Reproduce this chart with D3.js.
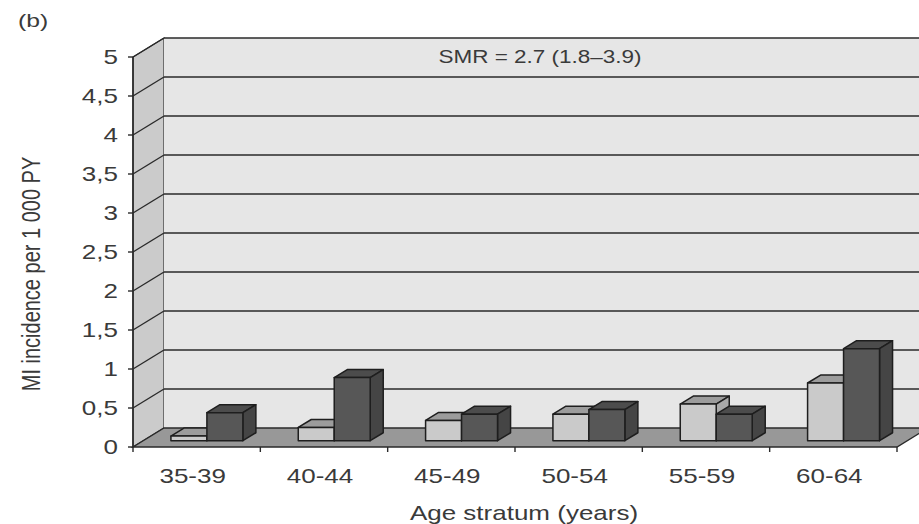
<!DOCTYPE html>
<html>
<head>
<meta charset="utf-8">
<script src="https://cdn.jsdelivr.net/npm/d3@7"></script>
<style>
  body { margin: 0; background: #fff; }
  text { font-family: "Liberation Sans", Arial, sans-serif; fill: #3a3a3a; }
</style>
</head>
<body>
<div id="chart"></div>
<script>
const categories = ['35-39', '40-44', '45-49', '50-54', '55-59', '60-64'];
const series = ['expected', 'observed'];
const expectedValues = [0.06, 0.17, 0.26, 0.34, 0.47, 0.74];
const observedValues = [0.36, 0.81, 0.34, 0.40, 0.34, 1.18];
const yTicks = [0, 0.5, 1, 1.5, 2, 2.5, 3, 3.5, 4, 4.5, 5];
const yTickLabels = ['0', '0,5', '1', '1,5', '2', '2,5', '3', '3,5', '4', '4,5', '5'];

const width = 919;
const height = 524;
// depth of the 3d box, in pixels
const depthX = 31;
const depthY = -19;
// where the bars sit in the depth (fraction of the box depth)
const barZ0 = 0.33;
const barZ1 = 0.75;
const stretch = 1.3; // text in the picture is horizontally stretched

const svg = d3.select('#chart')
  .append('svg')
  .attr('width', width)
  .attr('height', height);

const x = d3.scaleBand().domain(categories).range([133, 897]);
const xs = d3.scaleBand().domain(series).range([0, x.bandwidth()])
  .paddingInner(0).paddingOuter(0.77);
const y = d3.scaleLinear().domain([0, 5]).range([447, 57]);

const colors = {
  expected: {front: '#cacaca', top: '#9c9c9c', side: '#a9a9a9'},
  observed: {front: '#575757', top: '#4c4c4c', side: '#454545'}
};

// project a point (screen x, value, depth fraction) to screen coordinates
const pt = (px, v, z) => [px + z * depthX, y(v) + z * depthY];
const poly = pts => 'M' + pts.map(p => p.join(',')).join('L') + 'Z';

const x0 = x.range()[0], x1 = x.range()[1];
const vMax = y.domain()[1];

// left wall
svg.append('path')
  .attr('d', poly([pt(x0, 0, 0), pt(x0, 0, 1), pt(x0, vMax, 1), pt(x0, vMax, 0)]))
  .attr('fill', '#cbcbcb')
  .attr('stroke', '#333')
  .attr('stroke-width', 1.2);

// back wall
svg.append('path')
  .attr('d', poly([pt(x0, 0, 1), pt(x1, 0, 1), pt(x1, vMax, 1), pt(x0, vMax, 1)]))
  .attr('fill', '#e6e6e6')
  .attr('stroke', 'none');

// gridlines on both walls
const grid = yTicks.filter(d => d > 0);
svg.selectAll('.grid-back')
  .data(grid)
  .enter()
  .append('path')
  .attr('d', d => 'M' + pt(x0, d, 1).join(',') + 'L' + pt(x1, d, 1).join(','))
  .attr('stroke', '#2a2a2a')
  .attr('stroke-width', 1.4)
  .attr('fill', 'none');

svg.selectAll('.grid-side')
  .data(grid)
  .enter()
  .append('path')
  .attr('d', d => 'M' + pt(x0, d, 0).join(',') + 'L' + pt(x0, d, 1).join(','))
  .attr('stroke', '#2a2a2a')
  .attr('stroke-width', 1.4)
  .attr('fill', 'none');

// floor
svg.append('path')
  .attr('d', poly([pt(x0, 0, 0), pt(x1, 0, 0), pt(x1, 0, 1), pt(x0, 0, 1)]))
  .attr('fill', '#989898')
  .attr('stroke', '#2a2a2a')
  .attr('stroke-width', 1.4);

// front vertical axis
svg.append('line')
  .attr('x1', x0).attr('x2', x0)
  .attr('y1', y(0)).attr('y2', y(vMax))
  .attr('stroke', '#2a2a2a')
  .attr('stroke-width', 1.6);

// y ticks and labels
svg.selectAll('.ytick')
  .data(yTicks)
  .enter()
  .append('line')
  .attr('x1', x0 - 5).attr('x2', x0)
  .attr('y1', d => y(d)).attr('y2', d => y(d))
  .attr('stroke', '#2a2a2a')
  .attr('stroke-width', 1.4);

svg.selectAll('.ylabel')
  .data(yTicks)
  .enter()
  .append('text')
  .attr('transform', d => 'translate(' + 118 + ',' + (y(d) + 7) + ') scale(' + stretch + ',1)')
  .attr('text-anchor', 'end')
  .style('font-size', '20px')
  .text((d, i) => yTickLabels[i]);

// x ticks at category boundaries
const boundaries = categories.map(c => x(c)).concat([x1]);
svg.selectAll('.xtick')
  .data(boundaries)
  .enter()
  .append('line')
  .attr('x1', d => d).attr('x2', d => d)
  .attr('y1', y(0)).attr('y2', y(0) + 5)
  .attr('stroke', '#2a2a2a')
  .attr('stroke-width', 1.4);

svg.selectAll('.xlabel')
  .data(categories)
  .enter()
  .append('text')
  .attr('transform', d => 'translate(' + (x(d) + x.bandwidth() / 2 - 4) + ',' + 483 + ') scale(' + stretch + ',1)')
  .attr('text-anchor', 'middle')
  .style('font-size', '20px')
  .text(d => d);

// bars
const barData = [];
categories.forEach((c, i) => {
  barData.push({cat: c, s: 'expected', v: expectedValues[i]});
  barData.push({cat: c, s: 'observed', v: observedValues[i]});
});

const bars = svg.selectAll('.bar')
  .data(barData)
  .enter()
  .append('g');

const bx0 = d => x(d.cat) + xs(d.s);
const bx1 = d => x(d.cat) + xs(d.s) + xs.bandwidth();

bars.append('path') // top
  .attr('d', d => poly([pt(bx0(d), d.v, barZ0), pt(bx1(d), d.v, barZ0), pt(bx1(d), d.v, barZ1), pt(bx0(d), d.v, barZ1)]))
  .attr('fill', d => colors[d.s].top);

bars.append('path') // side
  .attr('d', d => poly([pt(bx1(d), 0, barZ0), pt(bx1(d), 0, barZ1), pt(bx1(d), d.v, barZ1), pt(bx1(d), d.v, barZ0)]))
  .attr('fill', d => colors[d.s].side);

bars.append('path') // front
  .attr('d', d => poly([pt(bx0(d), 0, barZ0), pt(bx1(d), 0, barZ0), pt(bx1(d), d.v, barZ0), pt(bx0(d), d.v, barZ0)]))
  .attr('fill', d => colors[d.s].front);

bars.selectAll('path')
  .attr('stroke', '#1e1e1e')
  .attr('stroke-width', 1.5)
  .attr('stroke-linejoin', 'round');

// annotation
svg.append('text')
  .attr('transform', 'translate(540,63) scale(1.25,1)')
  .attr('text-anchor', 'middle')
  .style('font-size', '18px')
  .text('SMR = 2.7 (1.8\u20133.9)');

// panel label
svg.append('text')
  .attr('transform', 'translate(18,27) scale(' + stretch + ',1)')
  .style('font-size', '19px')
  .text('(b)');

// axis titles
svg.append('text')
  .attr('transform', 'translate(524,520) scale(' + stretch + ',1)')
  .attr('text-anchor', 'middle')
  .style('font-size', '20px')
  .text('Age stratum (years)');

svg.append('text')
  .attr('transform', 'translate(40,274) scale(' + stretch + ',1) rotate(-90)')
  .attr('text-anchor', 'middle')
  .style('font-size', '20px')
  .text('MI incidence per 1 000 PY');
</script>
</body>
</html>
